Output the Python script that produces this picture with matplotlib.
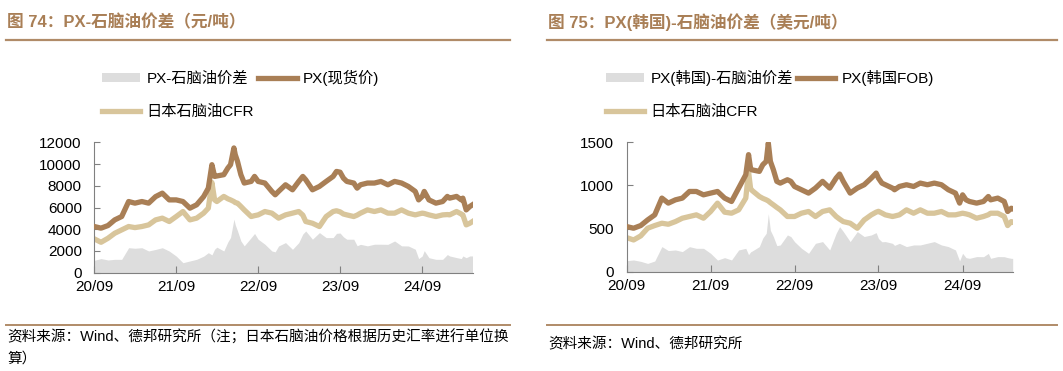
import matplotlib
matplotlib.use("Agg")
import matplotlib.pyplot as plt
import matplotlib.dates as mdates
from matplotlib.lines import Line2D
from matplotlib.patches import Patch
import pandas as pd

plt.rcParams['font.family'] = ['Liberation Sans', 'Noto Sans CJK SC']
plt.rcParams['axes.unicode_minus'] = False

# ---- 图74 数据（元/吨） ----
dates_cny = ["2020-09-01", "2020-10-01", "2020-11-01", "2020-12-01", "2021-01-01", "2021-02-01",
             "2021-03-01", "2021-04-01", "2021-05-01", "2021-06-01", "2021-07-01", "2021-08-01",
             "2021-09-01", "2021-10-01", "2021-11-01", "2021-12-01", "2022-01-01", "2022-01-22",
             "2022-02-07", "2022-02-19", "2022-03-01", "2022-04-01", "2022-04-19", "2022-05-01",
             "2022-05-16", "2022-05-22", "2022-06-01", "2022-06-16", "2022-07-01", "2022-08-01",
             "2022-08-16", "2022-09-01", "2022-10-01", "2022-11-01", "2022-11-16", "2022-12-01",
             "2023-01-01", "2023-02-01", "2023-03-01", "2023-03-19", "2023-04-01", "2023-05-01",
             "2023-06-01", "2023-07-01", "2023-08-01", "2023-08-16", "2023-09-01", "2023-09-16",
             "2023-10-01", "2023-11-01", "2023-11-16", "2023-12-01", "2024-01-01", "2024-02-01",
             "2024-03-01", "2024-04-01", "2024-05-01", "2024-06-01", "2024-07-01", "2024-08-01",
             "2024-08-16", "2024-09-01", "2024-09-10", "2024-10-01", "2024-11-01", "2024-12-01",
             "2024-12-22", "2025-01-01", "2025-02-01", "2025-02-22", "2025-03-01", "2025-03-16",
             "2025-04-01", "2025-04-13"]
px_cny = [4250, 4100, 4340, 4860, 5170, 6550, 6400, 6550, 6400, 7000, 7320, 6700,
          6700, 6550, 5940, 6250, 7000, 7780, 9940, 8860, 8900, 9020, 9630, 9940,
          11480, 10860, 10250, 9020, 8250, 8400, 8860, 8400, 8250, 7480, 7170, 7480,
          8090, 7630, 8400, 8860, 8550, 7630, 7940, 8400, 8860, 9320, 9250, 8700,
          8400, 8250, 7780, 8090, 8250, 8250, 8400, 8090, 8400, 8250, 7940, 7480,
          6700, 7020, 7480, 6700, 6400, 6550, 7020, 6860, 7020, 6700, 6860, 5780,
          6090, 6250]
naphtha_cny = [3110, 2800, 3170, 3630, 3940, 4250, 4150, 4250, 4400, 4860, 5020, 4710,
               5170, 5630, 4860, 5020, 5480, 5940, 8300, 6700, 6550, 7020, 6800, 6700,
               6550, 6450, 6400, 6100, 5780, 5170, 5250, 5320, 5630, 5480, 5250, 5020,
               5320, 5480, 5630, 5300, 4710, 4550, 4250, 5170, 5630, 5700, 5600, 5400,
               5320, 5170, 5300, 5480, 5780, 5630, 5780, 5480, 5480, 5780, 5480, 5320,
               5400, 5480, 5450, 5320, 5170, 5320, 5350, 5320, 5630, 5400, 5320, 4400,
               4550, 4710]

# ---- 图75 数据（美元/吨） ----
dates_usd = ["2020-09-01", "2020-10-01", "2020-11-01", "2020-12-01", "2021-01-01", "2021-02-01",
             "2021-03-01", "2021-04-01", "2021-05-01", "2021-06-01", "2021-07-01", "2021-08-01",
             "2021-09-01", "2021-10-01", "2021-11-01", "2021-12-01", "2022-01-01", "2022-02-01",
             "2022-02-13", "2022-02-22", "2022-03-01", "2022-04-01", "2022-04-16", "2022-05-01",
             "2022-05-10", "2022-05-19", "2022-06-01", "2022-06-16", "2022-07-01", "2022-08-01",
             "2022-08-16", "2022-09-01", "2022-10-01", "2022-11-01", "2022-12-01", "2023-01-01",
             "2023-02-01", "2023-03-01", "2023-03-16", "2023-04-01", "2023-05-01", "2023-06-01",
             "2023-07-01", "2023-08-01", "2023-08-22", "2023-09-01", "2023-09-16", "2023-10-01",
             "2023-11-01", "2023-11-10", "2023-12-01", "2024-01-01", "2024-02-01", "2024-03-01",
             "2024-04-01", "2024-05-01", "2024-06-01", "2024-07-01", "2024-08-01", "2024-08-19",
             "2024-09-01", "2024-09-16", "2024-10-01", "2024-11-01", "2024-12-01", "2024-12-22",
             "2025-01-01", "2025-02-01", "2025-03-01", "2025-03-16", "2025-04-01", "2025-04-07"]
px_usd = [523, 504, 535, 600, 659, 853, 795, 833, 853, 930, 930, 891,
          911, 930, 853, 814, 969, 1124, 1357, 1190, 1180, 1163, 1240, 1279,
          1492, 1279, 1182, 1047, 1027, 1066, 1047, 988, 950, 911, 969, 1047,
          969, 1085, 1132, 1047, 911, 969, 1008, 1085, 1143, 1085, 1027, 1008,
          969, 950, 988, 1008, 988, 1027, 1008, 1027, 1008, 950, 911, 795,
          891, 833, 814, 795, 814, 872, 833, 853, 814, 698, 736, 729]
naphtha_usd = [395, 368, 415, 504, 535, 562, 550, 581, 620, 640, 659, 620,
               698, 795, 690, 678, 717, 853, 1160, 960, 940, 872, 850, 833,
               820, 800, 775, 745, 717, 640, 640, 640, 678, 698, 640, 698,
               717, 640, 610, 581, 562, 504, 600, 659, 690, 700, 680, 659,
               640, 645, 659, 717, 678, 717, 678, 678, 698, 659, 659, 670,
               678, 670, 659, 620, 640, 660, 678, 678, 640, 535, 581, 575]

BROWN = '#A97F56'
BEIGE = '#D8C59B'
GREY = '#DDDDDD'
RULE = '#B08B68'
LW = 3.8

W, H = 1063, 371
fig = plt.figure(figsize=(W / 100, H / 100), dpi=100)


def fx(x):
    return x / W


def fy(y):
    return 1 - y / H


def hline(x0, x1, y, lw=1.6):
    fig.add_artist(Line2D([fx(x0), fx(x1)], [fy(y), fy(y)], transform=fig.transFigure,
                          color=RULE, lw=lw))


def panel(rect, dates, px, nap, ymax, ystep, labels, leg_xy):
    d = pd.to_datetime(dates)
    spread = [a - b for a, b in zip(px, nap)]
    ax = fig.add_axes(rect)
    ax.fill_between(d, 0, spread, color=GREY, lw=0, zorder=1)
    ax.plot(d, px, color=BROWN, lw=LW, zorder=3)
    ax.plot(d, nap, color=BEIGE, lw=LW, zorder=2)
    ax.set_xlim(d[0], d[-1])
    ax.set_ylim(0, ymax)
    ax.set_yticks(range(0, ymax + 1, ystep))
    ax.xaxis.set_major_locator(mdates.MonthLocator(bymonth=9))
    ax.xaxis.set_major_formatter(mdates.DateFormatter('%y/%m'))
    for s in ['top', 'right']:
        ax.spines[s].set_visible(False)
    for s in ['left', 'bottom']:
        ax.spines[s].set_color('#808080')
    ax.tick_params(axis='y', direction='in', length=4, color='#808080', labelsize=11, pad=9)
    ax.tick_params(axis='x', direction='in', length=5, color='#808080', labelsize=11, pad=5)
    handles = [Patch(facecolor=GREY, edgecolor='none'),
               Line2D([], [], color=BEIGE, lw=LW),
               Line2D([], [], color=BROWN, lw=LW)]
    fig.legend(handles, [labels[0], labels[2], labels[1]], ncol=2, frameon=False,
               loc='upper left', bbox_to_anchor=(fx(leg_xy[0]), fy(leg_xy[1])),
               fontsize=11, handlelength=2.5, handleheight=0.55, handletextpad=0.4,
               columnspacing=0.3, labelspacing=1.25, borderpad=0, borderaxespad=0)
    return ax


panel([fx(94.3), fy(272.7), fx(472.5) - fx(94.3), fy(142.3) - fy(272.7)],
      dates_cny, px_cny, naphtha_cny, 12000, 2000,
      ['PX-石脑油价差', 'PX(现货价)', '日本石脑油CFR'], (102, 70))
panel([fx(626.7), fy(271.7), fx(1012.7) - fx(626.7), fy(142.3) - fy(271.7)],
      dates_usd, px_usd, naphtha_usd, 1500, 500,
      ['PX(韩国)-石脑油价差', 'PX(韩国FOB)', '日本石脑油CFR'], (606, 70))

# 标题与来源
fig.text(fx(7), fy(22), '图 74：PX-石脑油价差（元/吨）', fontsize=12, fontweight='bold',
         color=BROWN, va='center', ha='left')
fig.text(fx(548), fy(22), '图 75：PX(韩国)-石脑油价差（美元/吨）', fontsize=12, fontweight='bold',
         color=BROWN, va='center', ha='left')
hline(6, 510, 40)
hline(547, 1057, 40)
hline(6, 510, 325, lw=1.4)
hline(547, 1057, 325, lw=1.4)
fig.text(fx(7), fy(337), '资料来源：Wind、德邦研究所（注；日本石脑油价格根据历史汇率进行单位换',
         fontsize=10.5, va='center', ha='left')
fig.text(fx(7), fy(359), '算）', fontsize=10.5, va='center', ha='left')
fig.text(fx(548), fy(344), '资料来源：Wind、德邦研究所', fontsize=10.5, va='center', ha='left')

fig.savefig('out.png', dpi=100)
